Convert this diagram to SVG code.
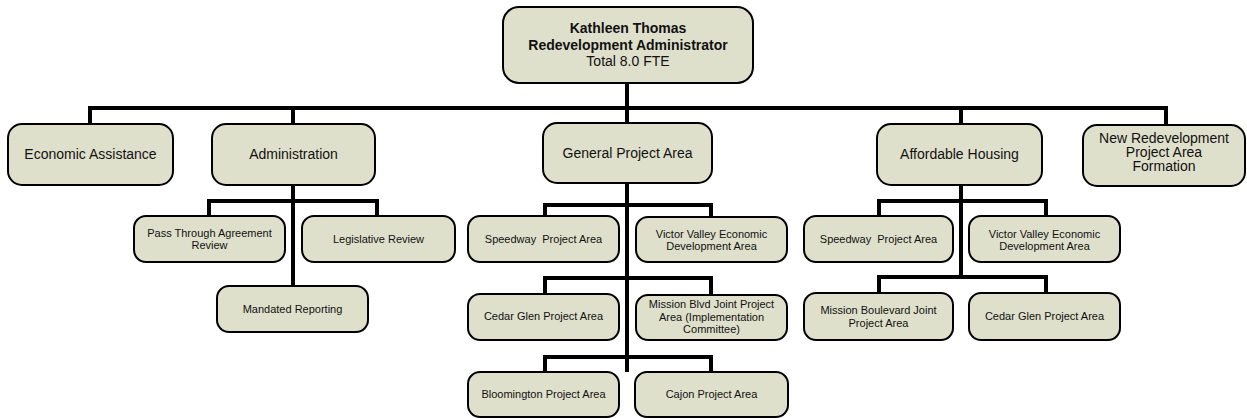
<svg xmlns="http://www.w3.org/2000/svg" width="1247" height="418" viewBox="0 0 1247 418">
<style>
.box{fill:#dfe0cb;stroke:#000;stroke-width:2}
.t{font-family:"Liberation Sans",Arial,sans-serif;fill:#111;text-anchor:middle}
.l{font-size:14px}
.s{font-size:11px}
.b{font-weight:bold}
.c{fill:none;stroke:#000;stroke-width:4;stroke-linejoin:miter;stroke-linecap:butt}
</style>
<rect width="1247" height="418" fill="#fff"/>
<g id="connectors">
<path class="c" d="M90,124 V108 H1166 V125"/>
<path class="c" d="M293,108 V124"/>
<path class="c" d="M627,83 V124"/>
<path class="c" d="M961,108 V124"/>
<path class="c" d="M293,185 V286"/>
<path class="c" d="M209,216 V201 H377 V216"/>
<path class="c" d="M627,183 V372"/>
<path class="c" d="M545,217 V205 H711 V217"/>
<path class="c" d="M545,294 V278 H711 V294"/>
<path class="c" d="M545,372 V357 H711 V372"/>
<path class="c" d="M961,185 V278"/>
<path class="c" d="M879,216 V201 H1046 V216"/>
<path class="c" d="M879,293 V277 H1046 V293"/>
</g>
<g id="n-top">
<rect class="box" x="503" y="7" width="250" height="76" rx="16"/>
<text class="t l b" x="628" y="33">Kathleen Thomas</text>
<text class="t l b" x="628" y="50">Redevelopment Administrator</text>
<text class="t l" x="628" y="66">Total 8.0 FTE</text>
</g>
<g id="n-econ">
<rect class="box" x="8" y="124" width="165" height="61" rx="14"/>
<text class="t l" x="90.5" y="159">Economic Assistance</text>
</g>
<g id="n-admin">
<rect class="box" x="212" y="124" width="163" height="61" rx="14"/>
<text class="t l" x="293.5" y="159">Administration</text>
</g>
<g id="n-general">
<rect class="box" x="543" y="123" width="169" height="60" rx="14"/>
<text class="t l" x="627.5" y="158">General Project Area</text>
</g>
<g id="n-afford">
<rect class="box" x="877" y="124" width="165" height="61" rx="14"/>
<text class="t l" x="959.5" y="159">Affordable Housing</text>
</g>
<g id="n-newredev">
<rect class="box" x="1083" y="125" width="162" height="61" rx="14"/>
<text class="t l" x="1164" y="143">New Redevelopment</text>
<text class="t l" x="1164" y="157">Project Area</text>
<text class="t l" x="1164" y="171">Formation</text>
</g>
<g id="n-passthrough">
<rect class="box" x="134" y="216" width="151" height="46" rx="12"/>
<text class="t s" x="209.5" y="237">Pass Through Agreement</text>
<text class="t s" x="209.5" y="249">Review</text>
</g>
<g id="n-legislative">
<rect class="box" x="302" y="216" width="153" height="46" rx="12"/>
<text class="t s" x="378.5" y="243">Legislative Review</text>
</g>
<g id="n-mandated">
<rect class="box" x="217" y="286" width="151" height="46" rx="12"/>
<text class="t s" x="292.5" y="313">Mandated Reporting</text>
</g>
<g id="n-gen-speedway">
<rect class="box" x="468" y="216" width="151" height="46" rx="12"/>
<text class="t s" x="543.5" y="243" style="white-space:pre">Speedway  Project Area</text>
</g>
<g id="n-gen-victor">
<rect class="box" x="636" y="217" width="151" height="45" rx="12"/>
<text class="t s" x="711.5" y="238">Victor Valley Economic</text>
<text class="t s" x="711.5" y="250">Development Area</text>
</g>
<g id="n-gen-cedar">
<rect class="box" x="468" y="294" width="151" height="46" rx="12"/>
<text class="t s" x="543.5" y="320">Cedar Glen Project Area</text>
</g>
<g id="n-gen-mission">
<rect class="box" x="636" y="295" width="151" height="45" rx="12"/>
<text class="t s" x="711.5" y="308">Mission Blvd Joint Project</text>
<text class="t s" x="711.5" y="321">Area (Implementation</text>
<text class="t s" x="711.5" y="333">Committee)</text>
</g>
<g id="n-gen-bloomington">
<rect class="box" x="468" y="372" width="151" height="45" rx="12"/>
<text class="t s" x="543.5" y="398">Bloomington Project Area</text>
</g>
<g id="n-gen-cajon">
<rect class="box" x="635" y="372" width="153" height="45" rx="12"/>
<text class="t s" x="711.5" y="398">Cajon Project Area</text>
</g>
<g id="n-aff-speedway">
<rect class="box" x="804" y="216" width="149" height="46" rx="12"/>
<text class="t s" x="878.5" y="243" style="white-space:pre">Speedway  Project Area</text>
</g>
<g id="n-aff-victor">
<rect class="box" x="969" y="216" width="151" height="46" rx="12"/>
<text class="t s" x="1044.5" y="238">Victor Valley Economic</text>
<text class="t s" x="1044.5" y="250">Development Area</text>
</g>
<g id="n-aff-mission">
<rect class="box" x="804" y="293" width="149" height="47" rx="12"/>
<text class="t s" x="878.5" y="314">Mission Boulevard Joint</text>
<text class="t s" x="878.5" y="327">Project Area</text>
</g>
<g id="n-aff-cedar">
<rect class="box" x="969" y="293" width="151" height="47" rx="12"/>
<text class="t s" x="1044.5" y="320">Cedar Glen Project Area</text>
</g>
</svg>
